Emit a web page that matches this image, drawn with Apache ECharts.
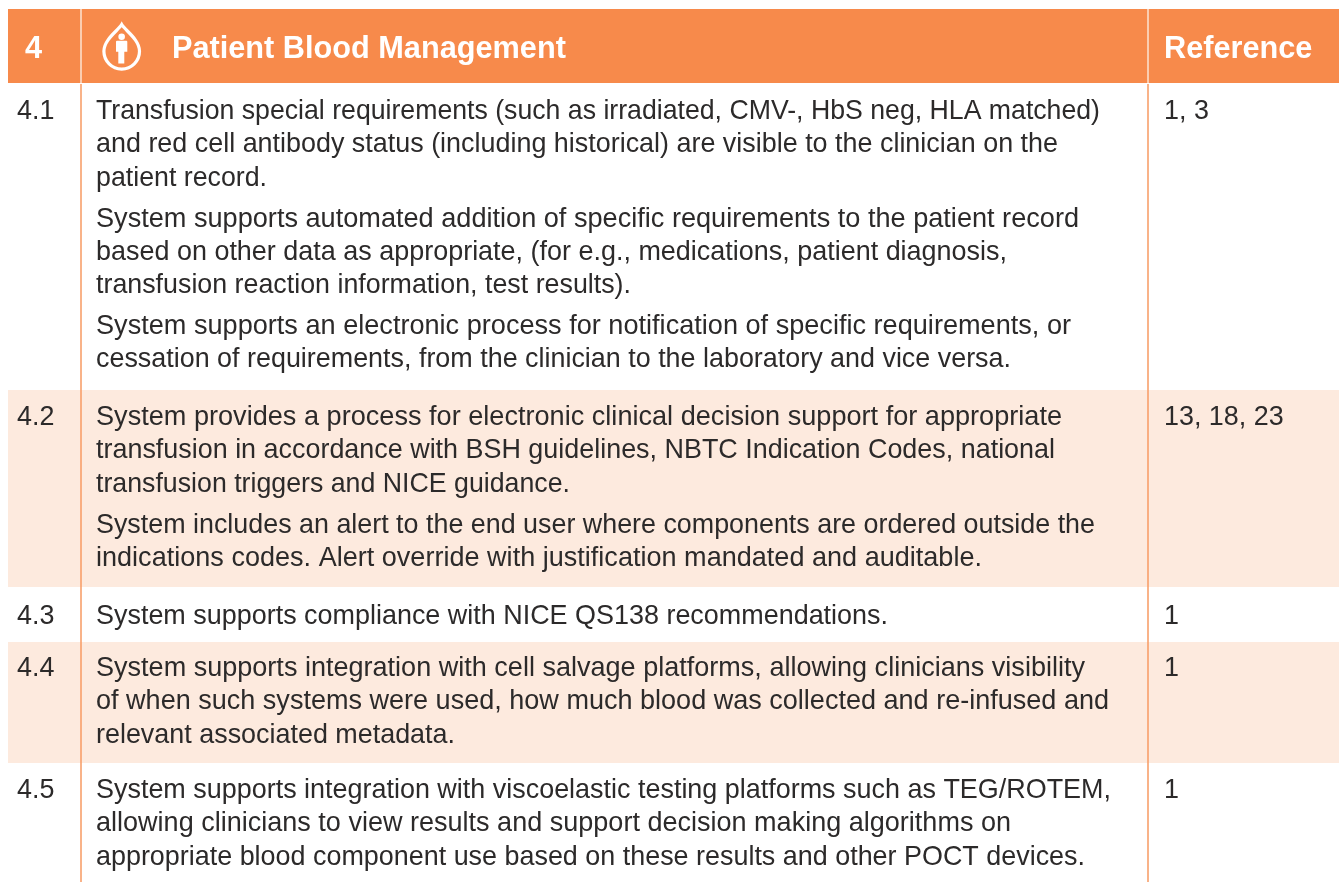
<!DOCTYPE html>
<html>
<head>
<meta charset="utf-8">
<style>html,body{margin:0;padding:0;background:#fff}#chart{width:1339px;height:882px}</style>
<script src="https://cdn.jsdelivr.net/npm/echarts@6/dist/echarts.min.js"></script>
</head>
<body>
<div id="chart"></div>
<script>
var sectionId = '4';
var sectionTitle = 'Patient Blood Management';
var referenceTitle = 'Reference';

var rowIds = ['4.1', '4.2', '4.3', '4.4', '4.5'];
var rowRefs = ['1, 3', '13, 18, 23', '1', '1', '1'];
var rowParagraphs = [
    [
        ['Transfusion special requirements (such as irradiated, CMV-, HbS neg, HLA matched)',
         'and red cell antibody status (including historical) are visible to the clinician on the',
         'patient record.'],
        ['System supports automated addition of specific requirements to the patient record',
         'based on other data as appropriate, (for e.g., medications, patient diagnosis,',
         'transfusion reaction information, test results).'],
        ['System supports an electronic process for notification of specific requirements, or',
         'cessation of requirements, from the clinician to the laboratory and vice versa.']
    ],
    [
        ['System provides a process for electronic clinical decision support for appropriate',
         'transfusion in accordance with BSH guidelines, NBTC Indication Codes, national',
         'transfusion triggers and NICE guidance.'],
        ['System includes an alert to the end user where components are ordered outside the',
         'indications codes. Alert override with justification mandated and auditable.']
    ],
    [
        ['System supports compliance with NICE QS138 recommendations.']
    ],
    [
        ['System supports integration with cell salvage platforms, allowing clinicians visibility',
         'of when such systems were used, how much blood was collected and re-infused and',
         'relevant associated metadata.']
    ],
    [
        ['System supports integration with viscoelastic testing platforms such as TEG/ROTEM,',
         'allowing clinicians to view results and support decision making algorithms on',
         'appropriate blood component use based on these results and other POCT devices.']
    ]
];

// layout, in picture pixels (both axes run 0..size of the page)
var rowEdges = [83, 390, 587, 642, 763, 882];
var firstLineOffset = [28.5, 27.5, 29.5, 26.5, 27.5];
var lineStep = 33.3;
var paragraphGap = 41;
var headerTop = 9, headerLeft = 8;
var col1 = 81, col2 = 1148;
var idX = 17, textX = 96, refX = 1164, titleX = 172;
// where each body line ends in the reference, the lines get stretched to it
var lineEnds = [1100, 1058, 267, 1079, 1007, 631, 1071, 1011,
                1062, 1055, 570, 1095, 982,
                888,
                1085, 1109, 455,
                1111, 1011, 1085];

var orange = '#f78a4b', band = '#fdeade', rule = '#f79a62', ink = '#2c2a2a';
var font = '"Liberation Sans", Arial, sans-serif';
var headFont = 'bold 30.7px ' + font, bodyFont = '26.9px ' + font;

var chart = echarts.init(document.getElementById('chart'), null, {renderer: 'canvas'});
var ctx = document.createElement('canvas').getContext('2d');
ctx.font = bodyFont;

// one entry per piece of text: [x, y, text, kind, stretch]
var texts = [];
texts.push([25, 49.5, sectionId, 'head', 1]);
texts.push([titleX, 49.5, sectionTitle, 'head', 1]);
texts.push([refX, 49.5, referenceTitle, 'head', 1]);
var lineNo = 0;
rowIds.forEach(function (id, i) {
    var y = rowEdges[i] + firstLineOffset[i];
    texts.push([idX, y, id, 'body', 1]);
    texts.push([refX, y, rowRefs[i], 'body', 1]);
    rowParagraphs[i].forEach(function (para) {
        para.forEach(function (line, l) {
            var stretch = (lineEnds[lineNo++] - textX) / ctx.measureText(line).width;
            texts.push([textX, y, line, 'body', stretch]);
            y += l < para.length - 1 ? lineStep : paragraphGap;
        });
    });
});

// rows 4.2 and 4.4 carry the tint
var bands = [];
rowIds.forEach(function (id, i) {
    if (i % 2 == 1) bands.push([rowEdges[i], rowEdges[i + 1]]);
});

var dropPath = 'M18 0 C21.5 6 36 15 36 27 A18 18 0 1 1 0 27 C0 15 14.5 6 18 0 Z';
var personPath = 'M5.65 0 A3.3 3.3 0 1 1 5.65 6.6 A3.3 3.3 0 1 1 5.65 0 Z M1 7.3 H10.3 Q11.3 7.3 11.3 8.3 V18.3 H8.3 V30 H2.3 V18.3 H0 V8.3 Q0 7.3 1 7.3 Z';

function rectFrom(api, x0, y0, x1, y1) {
    var a = api.coord([x0, y0]), b = api.coord([x1, y1]);
    return {x: a[0], y: a[1], width: b[0] - a[0], height: b[1] - a[1]};
}

chart.setOption({
    animation: false,
    grid: {left: 0, right: 0, top: 0, bottom: 0},
    xAxis: {type: 'value', min: 0, max: 1339, show: false},
    yAxis: {type: 'value', min: 0, max: 882, inverse: true, show: false},
    series: [
        {
            // header strip and tinted rows
            type: 'custom', silent: true, z: 1,
            data: [[headerTop, rowEdges[0], 1]].concat(bands.map(function (b) { return [b[0], b[1], 0]; })),
            renderItem: function (params, api) {
                return {
                    type: 'rect',
                    shape: rectFrom(api, headerLeft, api.value(0), 1339, api.value(1)),
                    style: {fill: api.value(2) ? orange : band}
                };
            }
        },
        {
            // column rules: white in the header, orange below it
            type: 'custom', silent: true, z: 2,
            data: [[col1, 0], [col2, 0], [col1, 1], [col2, 1]],
            renderItem: function (params, api) {
                var head = api.value(1) == 0;
                var x = api.value(0);
                return {
                    type: 'rect',
                    shape: head ? rectFrom(api, x - 0.75, headerTop, x + 0.75, rowEdges[0])
                                : rectFrom(api, x - 0.75, rowEdges[0] + 1, x + 0.75, rowEdges[5]),
                    style: {fill: head ? '#fde3d2' : rule}
                };
            }
        },
        {
            // drop icon with the person inside
            type: 'custom', silent: true, z: 3,
            data: [[103.9, 24.3]],
            renderItem: function (params, api) {
                var p = api.coord([api.value(0), api.value(1)]);
                return {
                    type: 'group',
                    children: [
                        {type: 'path', layout: 'cover', shape: {pathData: dropPath, x: p[0], y: p[1], width: 35.6, height: 45},
                         style: {fill: 'none', stroke: '#fff', lineWidth: 3.2}},
                        {type: 'path', layout: 'cover', shape: {pathData: personPath, x: p[0] + 12.1, y: p[1] + 9.1, width: 11.3, height: 30},
                         style: {fill: '#fff'}}
                    ]
                };
            }
        },
        {
            type: 'custom', silent: true, z: 4,
            data: texts,
            encode: {x: 0, y: 1},
            renderItem: function (params, api) {
                var t = texts[params.dataIndex];
                var p = api.coord([t[0], t[1]]);
                var head = t[3] == 'head';
                return {
                    type: 'text',
                    x: p[0], y: p[1],
                    scaleX: t[4],
                    style: {
                        x: 0, y: 0,
                        text: t[2],
                        fill: head ? '#fff' : ink,
                        font: head ? headFont : bodyFont,
                        textAlign: 'left',
                        textVerticalAlign: 'middle'
                    }
                };
            }
        }
    ]
});
</script>
</body>
</html>
